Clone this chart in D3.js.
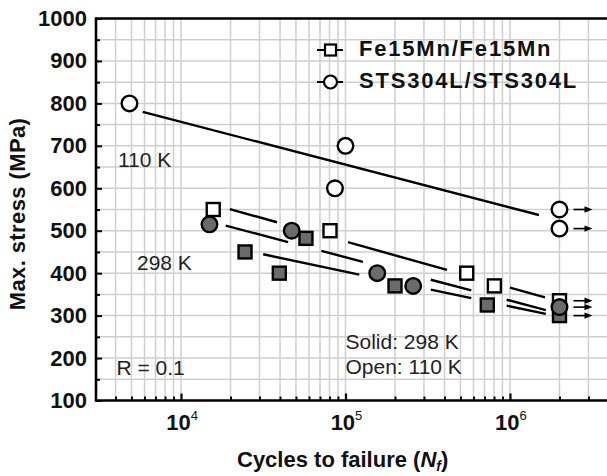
<!DOCTYPE html>
<html><head><meta charset="utf-8">
<script src="https://cdn.jsdelivr.net/npm/d3@7"></script>
<style>
body{margin:0;background:#fff;}
svg{display:block;font-family:"Liberation Sans",Arial,sans-serif;}
</style></head>
<body><svg id="c" width="607" height="476"></svg>
<script>
// ---- data ----
const fe110N = [1.57e4, 8.05e4, 5.46e5, 8.04e5, 2e6];
const fe110S = [550, 500, 400, 370, 335];
const fe298N = [2.45e4, 3.96e4, 5.75e4, 2.0e5, 7.28e5, 2e6];
const fe298S = [450, 400, 482, 370, 325, 300];
const sts298N = [1.49e4, 4.71e4, 1.56e5, 2.58e5, 2e6];
const sts298S = [515, 500, 400, 370, 320];
const sts110N = [4.86e3, 1e5, 8.63e4, 2e6, 2e6];
const sts110S = [800, 700, 600, 550, 505];
const runoutN = 2e6;
const runoutS = [550, 505, 335, 320, 300];

// fit lines: end points and drawn segments (N ranges)
const fitSts110End = [[5.85e3, 780], [1.5e6, 537]];
const fitSts110Seg = [[5.85e3, 1.5e6]];
const fitFe110End = [[1.98e4, 551], [1.633e6, 343]];
const fitFe110Seg = [[1.98e4, 3.83e4], [1.035e5, 4.14e5], [1.0e6, 1.633e6]];
const fitSts298End = [[1.87e4, 512], [1.652e6, 313]];
const fitSts298Seg = [[1.87e4, 4.48e4], [7.13e4, 1.276e5], [3.30e5, 5.82e5], [9.55e5, 1.652e6]];
const fitFe298End = [[3.16e4, 444.5], [1.652e6, 304]];
const fitFe298Seg = [[3.16e4, 1.213e5], [3.30e5, 5.82e5], [9.55e5, 1.652e6]];

const yMajor = [100, 200, 300, 400, 500, 600, 700, 800, 900, 1000];
const yMinor = [150, 250, 350, 450, 550, 650, 750, 850, 950];
const xMajor = [1e4, 1e5, 1e6];
const xMajorExp = ["4", "5", "6"];
const xMinor = [4e3,5e3,6e3,7e3,8e3,9e3,2e4,3e4,4e4,5e4,6e4,7e4,8e4,9e4,2e5,3e5,4e5,5e5,6e5,7e5,8e5,9e5,2e6,3e6];
const legendLabels = ["Fe15Mn/Fe15Mn", "STS304L/STS304L"];

// ---- scales ----
const svg = d3.select("#c");
const x = d3.scaleLog().domain([3000, 4e6]).range([95, 609]);
const y = d3.scaleLinear().domain([100, 1000]).range([400.5, 18.5]);
const X0 = 96, X1 = 607, Y0 = 400.5, Y1 = 18.5;

// grid
const g = svg.append("g");
g.selectAll("line.vg").data(xMinor.concat(xMajor)).enter().append("line")
  .attr("x1", d => x(d)).attr("x2", d => x(d)).attr("y1", Y1).attr("y2", Y0)
  .attr("stroke", "#cfcfcf").attr("stroke-width", 1.5);
g.selectAll("line.hg").data(yMinor.concat(yMajor.slice(1, -1))).enter().append("line")
  .attr("x1", X0).attr("x2", X1).attr("y1", d => y(d)).attr("y2", d => y(d))
  .attr("stroke", "#cfcfcf").attr("stroke-width", 1.5);

// fit lines
function fitLine(end, segs) {
  const ln = d3.scaleLog().domain([end[0][0], end[1][0]]).range([end[0][1], end[1][1]]);
  svg.append("g").selectAll("line").data(segs).enter().append("line")
    .attr("x1", d => x(d[0])).attr("y1", d => y(ln(d[0])))
    .attr("x2", d => x(d[1])).attr("y2", d => y(ln(d[1])))
    .attr("stroke", "#000").attr("stroke-width", 2.4);
}
fitLine(fitSts110End, fitSts110Seg);
fitLine(fitFe110End, fitFe110Seg);
fitLine(fitSts298End, fitSts298Seg);
fitLine(fitFe298End, fitFe298Seg);

// symbols
function squares(N, S, fill, size) {
  svg.append("g").selectAll("rect").data(N.map((n, i) => [n, S[i]])).enter().append("rect")
    .attr("x", d => x(d[0]) - size / 2).attr("y", d => y(d[1]) - size / 2)
    .attr("width", size).attr("height", size)
    .attr("fill", fill).attr("stroke", "#000").attr("stroke-width", 2.4);
}
function circles(N, S, fill, r) {
  svg.append("g").selectAll("circle").data(N.map((n, i) => [n, S[i]])).enter().append("circle")
    .attr("cx", d => x(d[0])).attr("cy", d => y(d[1])).attr("r", r)
    .attr("fill", fill).attr("stroke", "#000").attr("stroke-width", 2.4);
}
squares(fe110N, fe110S, "#fff", 13);
squares(fe298N, fe298S, "#6b6b6b", 13);
circles(sts110N, sts110S, "#fff", 7.8);
circles(sts298N, sts298S, "#6b6b6b", 7.8);

// runout arrows
const ar = svg.append("g");
runoutS.forEach(s => {
  const xs = x(runoutN) + 14, xe = x(runoutN) + 33, yy = y(s);
  ar.append("line").attr("x1", xs).attr("x2", xe - 6).attr("y1", yy).attr("y2", yy)
    .attr("stroke", "#000").attr("stroke-width", 1.6);
  ar.append("path").attr("d", `M${xe},${yy}L${xe - 8},${yy - 3.2}L${xe - 8},${yy + 3.2}Z`).attr("fill", "#000");
});

// axes
const yAxis = d3.axisLeft(y).tickValues(yMajor).tickSize(-6).tickPadding(9).tickFormat(d3.format("d"));
const ya = svg.append("g").attr("transform", `translate(${X0},0)`).call(yAxis);
ya.select(".domain").remove();
ya.selectAll(".tick line").attr("stroke-width", 2);
ya.selectAll("text").attr("font-size", 22).attr("font-weight", "bold").attr("fill", "#111")
  .attr("font-family", "Liberation Sans, Arial, sans-serif");
const yMin = d3.axisLeft(y).tickValues(yMinor).tickSize(-4).tickFormat("");
const ym = svg.append("g").attr("transform", `translate(${X0},0)`).call(yMin);
ym.select(".domain").remove();
ym.selectAll(".tick line").attr("stroke-width", 2);

const xAxis = d3.axisBottom(x).tickValues(xMajor).tickSize(-7).tickFormat("");
const xa = svg.append("g").attr("transform", `translate(0,${Y0})`).call(xAxis);
xa.select(".domain").remove();
xa.selectAll(".tick line").attr("stroke-width", 2.2);
const xMinAx = d3.axisBottom(x).tickValues(xMinor).tickSize(-4).tickFormat("");
const xm = svg.append("g").attr("transform", `translate(0,${Y0})`).call(xMinAx);
xm.select(".domain").remove();
xm.selectAll(".tick line").attr("stroke-width", 2);

xMajor.forEach((v, i) => {
  const t = svg.append("text").attr("x", x(v) + 1).attr("y", 430).attr("text-anchor", "middle")
    .attr("font-size", 22).attr("font-weight", "bold").attr("fill", "#111");
  t.append("tspan").text("10");
  t.append("tspan").attr("dy", -10).attr("font-size", 13).attr("font-weight", "normal").text(xMajorExp[i]);
});

// frame
svg.append("line").attr("x1", X0).attr("x2", X1).attr("y1", Y1).attr("y2", Y1).attr("stroke", "#000").attr("stroke-width", 2.6);
svg.append("line").attr("x1", X0).attr("x2", X1).attr("y1", Y0).attr("y2", Y0).attr("stroke", "#000").attr("stroke-width", 2.6);
svg.append("line").attr("x1", X0).attr("x2", X0).attr("y1", Y1 - 1.3).attr("y2", Y0 + 1.3).attr("stroke", "#000").attr("stroke-width", 2.6);

// legend
const lg = svg.append("g");
[50, 82].forEach((ly, i) => {
  lg.append("line").attr("x1", 317).attr("x2", 343).attr("y1", ly).attr("y2", ly).attr("stroke", "#000").attr("stroke-width", 2);
  if (i === 0) lg.append("rect").attr("x", 325).attr("y", ly - 5.5).attr("width", 11).attr("height", 11)
    .attr("fill", "#fff").attr("stroke", "#000").attr("stroke-width", 2.2);
  else lg.append("circle").attr("cx", 330.5).attr("cy", ly).attr("r", 6.5)
    .attr("fill", "#fff").attr("stroke", "#000").attr("stroke-width", 2.2);
  lg.append("text").attr("x", 359).attr("y", ly + 6.3).attr("font-size", 22).attr("font-weight", "bold")
    .attr("letter-spacing", "1.8px").attr("fill", "#111").text(legendLabels[i]);
});

// annotations
function note(tx, xx, yy) {
  svg.append("text").attr("x", xx).attr("y", yy).attr("font-size", 21).attr("fill", "#222").text(tx);
}
note("110 K", 118, 167);
note("298 K", 137, 269.5);
note("R = 0.1", 116.5, 374.5);
note("Solid: 298 K", 345.5, 348.5);
note("Open: 110 K", 345.5, 373.5);

// axis titles
svg.append("text").attr("transform", "translate(25,214) rotate(-90)").attr("text-anchor", "middle")
  .attr("font-size", 22).attr("font-weight", "bold").attr("letter-spacing", "0.4px").attr("fill", "#111")
  .text("Max. stress (MPa)");
const xt = svg.append("text").attr("x", 237).attr("y", 467).attr("font-size", 22).attr("font-weight", "bold").attr("fill", "#111");
xt.append("tspan").text("Cycles to failure (");
xt.append("tspan").attr("font-style", "italic").text("N");
xt.append("tspan").attr("font-style", "italic").attr("font-size", 14).attr("dy", 4).text("f");
xt.append("tspan").attr("dy", -4).text(")");
</script></body></html>
